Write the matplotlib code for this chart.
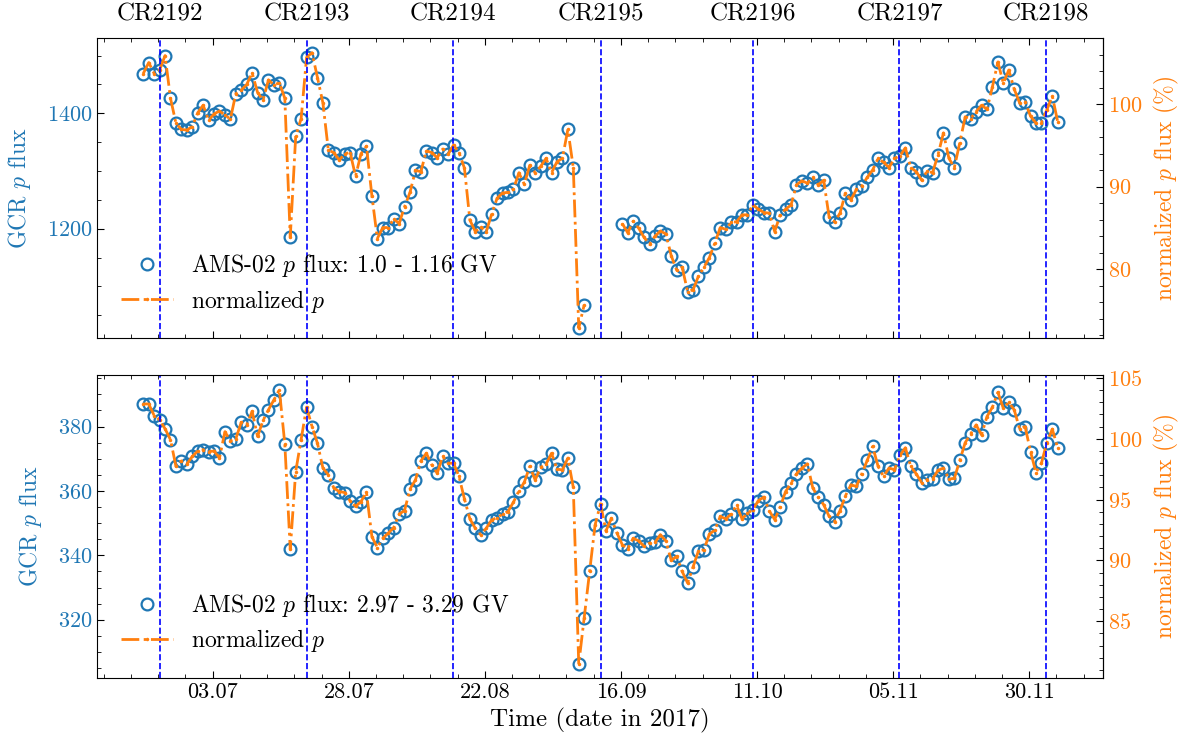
#!/usr/bin/python

import matplotlib.pyplot as plt
import matplotlib.dates as mdates
from matplotlib.ticker import MultipleLocator, FixedLocator
import numpy as np
import pandas as pd

plt.rcParams['font.family'] = ['cmr10', 'DejaVu Serif']
plt.rcParams['mathtext.fontset'] = 'cm'
plt.rcParams['axes.formatter.use_mathtext'] = True
plt.rcParams['axes.unicode_minus'] = False

nan = np.nan

# daily AMS-02 proton fluxes, first day below
start_day = '2017-06-20 06:00'

flux_low = [
    1469, 1488, 1469, 1475, 1500, 1426, 1383, 1372, 1371, 1377,
    1401, 1414, 1388, 1399, 1404, 1397, 1390, 1434, 1440, 1450,
    1470, 1436, 1423, 1458, 1449, 1453, 1426, 1185, 1360, 1391,
    1497, 1505, 1462, 1418, 1336, 1332, 1319, 1330, 1332, 1291,
    1330, 1343, 1257, 1183, 1202, 1202, 1217, 1209, 1238, 1263,
    1301, 1299, 1335, 1332, 1323, 1338, 1329, 1345, 1332, 1305,
    1215, 1195, 1203, 1195, 1225, 1253, 1262, 1263, 1268, 1297,
    1277, 1310, 1297, 1308, 1322, 1297, 1316, 1322, 1372, 1306,
    1028, 1068, nan, nan, nan, nan, nan, nan, 1209, 1193,
    1213, 1201, 1185, 1173, 1187, 1196, 1191, 1153, 1128, 1133,
    1091, 1094, 1118, 1133, 1150, 1175, 1202, 1199, 1211, 1212,
    1224, 1224, 1241, 1234, 1228, 1227, 1195, 1224, 1234, 1241,
    1276, 1283, 1279, 1289, 1276, 1284, 1220, 1212, 1227, 1262,
    1250, 1268, 1274, 1289, 1302, 1322, 1315, 1306, 1322, 1326,
    1340, 1306, 1299, 1284, 1300, 1297, 1328, 1366, 1322, 1306,
    1349, 1394, 1391, 1403, 1414, 1407, 1446, 1489, 1452, 1475,
    1442, 1418, 1420, 1395, 1383, 1384, 1406, 1430, 1385,
]

flux_high = [
    387.0, 387.0, 383.4, 382.1, 379.3, 375.9, 367.6, 369.3, 368.3, 370.7,
    372.4, 372.8, 372.2, 372.4, 370.2, 378.4, 375.5, 376.2, 381.3, 380.5,
    384.7, 376.9, 381.9, 385.2, 388.3, 391.4, 374.6, 341.9, 366.0, 375.9,
    386.0, 380.0, 374.8, 367.1, 365.0, 360.9, 359.8, 359.5, 356.9, 355.2,
    356.7, 359.6, 345.8, 342.4, 345.3, 346.9, 348.6, 352.8, 353.9, 360.6,
    363.4, 369.3, 371.7, 368.1, 365.5, 370.7, 368.6, 368.6, 364.5, 357.5,
    351.3, 348.4, 346.4, 348.4, 351.0, 351.7, 352.8, 353.6, 356.5, 360.0,
    362.7, 367.6, 363.4, 367.3, 368.3, 371.7, 366.8, 366.5, 370.2, 361.1,
    306.2, 320.5, 335.0, 349.4, 356.0, 347.6, 351.5, 347.0, 343.3, 342.0,
    345.3, 344.5, 342.8, 343.8, 344.0, 346.4, 344.5, 338.4, 339.7, 335.0,
    331.4, 336.4, 341.4, 341.7, 346.6, 347.8, 352.1, 351.3, 352.8, 355.5,
    351.3, 353.1, 354.2, 357.0, 358.1, 353.8, 351.1, 355.0, 359.8, 362.4,
    365.3, 367.1, 368.4, 360.9, 358.1, 355.7, 352.1, 350.5, 353.9, 358.5,
    361.9, 361.4, 365.3, 369.5, 373.8, 367.6, 364.5, 367.1, 366.6, 371.0,
    373.4, 367.6, 365.3, 362.6, 363.5, 363.7, 366.4, 367.1, 363.7, 363.9,
    369.5, 375.0, 377.7, 380.5, 377.4, 383.1, 386.0, 390.6, 385.7, 387.5,
    385.2, 379.2, 380.0, 372.2, 365.7, 368.6, 375.0, 379.2, 373.3,
]

flux_labels = ['AMS-02 $p$ flux: 1.0 - 1.16 GV', 'AMS-02 $p$ flux: 2.97 - 3.29 GV']

# flux value at 100 % and flux per 1 % on the right axis
norm_ref = [1416.0, 376.2]
norm_step = [14.3, 3.78]

cr_names = ['CR2192', 'CR2193', 'CR2194', 'CR2195', 'CR2196', 'CR2197', 'CR2198']
cr_dates = ['2017-06-23 08:00', '2017-07-20 08:00', '2017-08-16 05:00', '2017-09-12 07:00',
            '2017-10-10 05:00', '2017-11-06 04:00', '2017-12-03 02:00']

tick_dates = ['2017-07-03', '2017-07-28', '2017-08-22', '2017-09-16',
              '2017-10-11', '2017-11-05', '2017-11-30']
tick_labels = ['03.07', '28.07', '22.08', '16.09', '11.10', '05.11', '30.11']


def draw():
    fig = plt.figure(figsize=(11.86, 7.47), dpi=100)
    ax1 = fig.add_axes([0.0818, 0.5471, 0.8485, 0.4016])
    ax2 = fig.add_axes([0.0818, 0.0928, 0.8485, 0.4052], sharex=ax1)

    t_major = mdates.date2num(pd.to_datetime(tick_dates))
    t_minor = np.arange(t_major[0] - 25, t_major[-1] + 16, 5)

    settings = [
        (ax1, flux_low, (1010, 1530), 200, 50, 10, 2),
        (ax2, flux_high, (302, 396), 20, 5, 5, 1),
    ]
    for i, (ax, flux, ylim, ymaj, ymin, pmaj, pmin) in enumerate(settings):
        days = pd.date_range(start_day, periods=len(flux), freq='D')
        ax.plot(days, flux, 'o', mfc='none', mec='C0', ms=8.5, mew=1.6,
                label=flux_labels[i])
        ax.plot(days, flux, '-.', color='C1', lw=2, marker='.', ms=3,
                label='normalized $p$')
        for d in cr_dates:
            ax.axvline(pd.Timestamp(d), color='b', ls='--', lw=1.2)

        ax.set_ylim(*ylim)
        ax.yaxis.set_major_locator(MultipleLocator(ymaj))
        ax.yaxis.set_minor_locator(MultipleLocator(ymin))
        ax.set_ylabel('GCR $p$ flux', color='C0', fontsize=17, labelpad=10)
        ax.tick_params(which='both', direction='in', top=True, right=False)
        ax.tick_params(which='major', length=5, labelsize=16)
        ax.tick_params(which='minor', length=3)
        ax.tick_params(axis='y', labelcolor='C0')

        r, s = norm_ref[i], norm_step[i]
        sec = ax.secondary_yaxis('right',
                                 functions=(lambda y, r=r, s=s: 100 + (y - r) / s,
                                            lambda p, r=r, s=s: r + (p - 100) * s))
        sec.yaxis.set_major_locator(MultipleLocator(pmaj))
        sec.yaxis.set_minor_locator(MultipleLocator(pmin))
        sec.tick_params(which='both', direction='in', labelcolor='C1')
        sec.tick_params(which='major', length=5, labelsize=16)
        sec.tick_params(which='minor', length=3)
        sec.set_ylabel('normalized $p$ flux (%)', color='C1', fontsize=17, labelpad=7)

        ax.legend(loc='lower left', frameon=False, fontsize=17, handlelength=2.2,
                  handletextpad=0.8, labelspacing=0.35, borderaxespad=0.6)

    ax2.xaxis.set_major_locator(FixedLocator(t_major))
    ax2.xaxis.set_minor_locator(FixedLocator(t_minor))
    ax2.set_xticklabels(tick_labels)
    ax2.set_xlim(pd.Timestamp('2017-06-11 18:00'), pd.Timestamp('2017-12-13 15:00'))
    ax1.tick_params(labelbottom=False)
    ax2.set_xlabel('Time (date in 2017)', fontsize=18)

    for name, d in zip(cr_names, cr_dates):
        ax1.text(pd.Timestamp(d), 1.08, name, transform=ax1.get_xaxis_transform(),
                 ha='center', va='center', fontsize=18)

    plt.savefig('out.png', dpi=100)


if __name__ == "__main__":
    draw()
